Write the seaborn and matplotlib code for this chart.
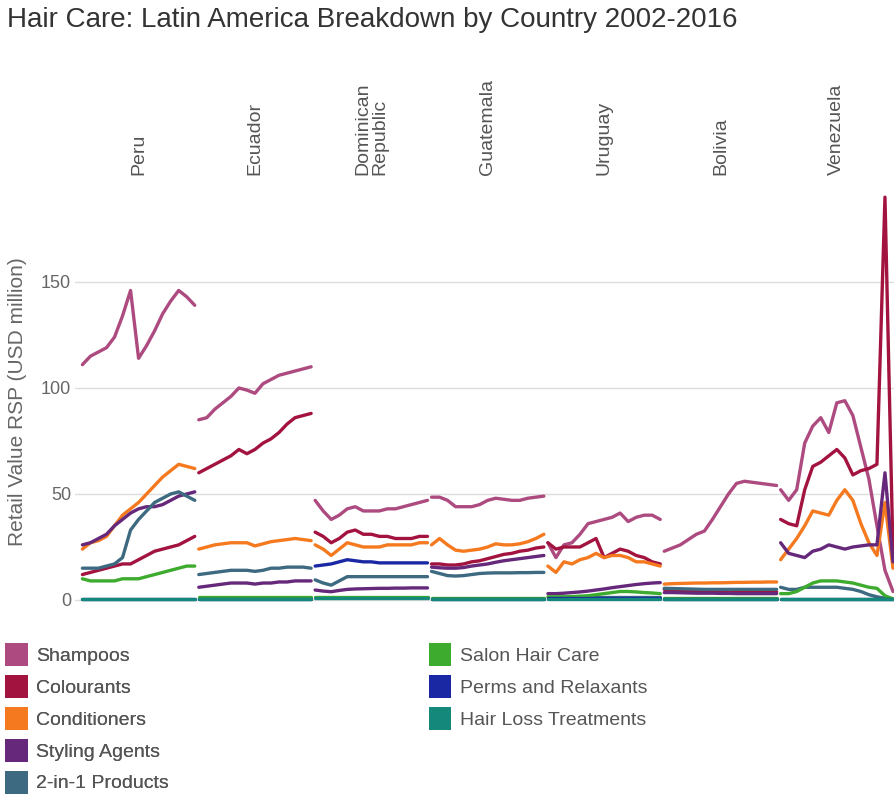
import pandas as pd
import seaborn as sns
import matplotlib.pyplot as plt
from matplotlib.patches import Patch

# jaren en categorieen
years = list(range(2002, 2017))
categories = ["Shampoos", "Colourants", "Conditioners", "Styling Agents",
              "2-in-1 Products", "Salon Hair Care", "Perms and Relaxants",
              "Hair Loss Treatments"]
colors = ["#ad4a80", "#a3133f", "#f57a1f", "#66287a",
          "#3d6a80", "#3dab2e", "#1b28a3", "#14887a"]
countries = ["Peru", "Ecuador", "Dominican\nRepublic", "Guatemala",
             "Uruguay", "Bolivia", "Venezuela"]

# Retail Value RSP (USD million) per land, volgorde = categories
peru = [
    [111, 115, 117, 119, 124, 134, 146, 114, 120, 127, 135, 141, 146, 143, 139],
    [12, 13, 14, 15, 16, 17, 17, 19, 21, 23, 24, 25, 26, 28, 30],
    [24, 27, 28, 30, 35, 40, 43, 46, 50, 54, 58, 61, 64, 63, 62],
    [26, 27, 29, 31, 35, 38, 41, 43, 44, 44, 45, 47, 49, 50, 51],
    [15, 15, 15, 16, 17, 20, 33, 38, 42, 46, 48, 50, 51, 49, 47],
    [10, 9, 9, 9, 9, 10, 10, 10, 11, 12, 13, 14, 15, 16, 16],
    [0.3, 0.3, 0.3, 0.3, 0.3, 0.3, 0.3, 0.3, 0.3, 0.3, 0.3, 0.3, 0.3, 0.3, 0.3],
    [0.4, 0.4, 0.4, 0.4, 0.4, 0.4, 0.4, 0.4, 0.4, 0.4, 0.4, 0.4, 0.4, 0.4, 0.4],
]
ecuador = [
    [85, 86, 90, 93, 96, 100, 99, 97.5, 102, 104, 106, 107, 108, 109, 110],
    [60, 62, 64, 66, 68, 71, 69, 71, 74, 76, 79, 83, 86, 87, 88],
    [24, 25, 26, 26.5, 27, 27, 27, 25.5, 26.5, 27.5, 28, 28.5, 29, 28.5, 28],
    [6, 6.5, 7, 7.5, 8, 8, 8, 7.5, 8, 8, 8.5, 8.5, 9, 9, 9],
    [12, 12.5, 13, 13.5, 14, 14, 14, 13.5, 14, 15, 15, 15.5, 15.5, 15.5, 15],
    [1.5, 1.5, 1.5, 1.5, 1.5, 1.5, 1.5, 1.5, 1.5, 1.5, 1.5, 1.5, 1.5, 1.5, 1.5],
    [0.3, 0.3, 0.3, 0.3, 0.3, 0.3, 0.3, 0.3, 0.3, 0.3, 0.3, 0.3, 0.3, 0.3, 0.3],
    [0.5, 0.5, 0.5, 0.5, 0.5, 0.5, 0.5, 0.5, 0.5, 0.5, 0.5, 0.5, 0.5, 0.5, 0.5],
]
dominican = [
    [47, 42, 38, 40, 43, 44, 42, 42, 42, 43, 43, 44, 45, 46, 47],
    [32, 30, 27, 29, 32, 33, 31, 31, 30, 30, 29, 29, 29, 30, 30],
    [26, 24, 21, 24, 27, 26, 25, 25, 25, 26, 26, 26, 26, 27, 27],
    [4.7, 4.2, 3.9, 4.5, 5, 5.2, 5.3, 5.4, 5.5, 5.5, 5.6, 5.6, 5.7, 5.7, 5.7],
    [9.5, 8, 7, 9, 11, 11, 11, 11, 11, 11, 11, 11, 11, 11, 11],
    [1.5, 1.5, 1.5, 1.5, 1.5, 1.5, 1.5, 1.5, 1.5, 1.5, 1.5, 1.5, 1.5, 1.5, 1.5],
    [16, 16.5, 17, 18, 19, 18.5, 18, 18, 17.5, 17.5, 17.5, 17.5, 17.5, 17.5, 17.5],
    [0.8, 0.8, 0.8, 0.8, 0.8, 0.8, 0.8, 0.8, 0.8, 0.8, 0.8, 0.8, 0.8, 0.8, 0.8],
]
guatemala = [
    [48.5, 48.5, 47, 44, 44, 44, 45, 47, 48, 47.5, 47, 47, 48, 48.5, 49],
    [17, 17, 16.5, 16.5, 17, 18, 18.5, 19.5, 20.5, 21.5, 22, 23, 23.5, 24.5, 25],
    [26, 29, 26, 23.5, 23, 23.5, 24, 25, 26.5, 26, 26, 26.5, 27.5, 29, 31],
    [15.5, 15.2, 15, 15, 15.3, 16, 16.5, 17, 17.8, 18.5, 19, 19.5, 20, 20.5, 21],
    [13.5, 12.5, 11.5, 11.3, 11.5, 12, 12.5, 12.7, 12.8, 12.8, 12.8, 12.9, 12.9, 13, 13],
    [1, 1, 1, 1, 1, 1, 1, 1, 1, 1, 1, 1, 1, 1, 1],
    [0.3, 0.3, 0.3, 0.3, 0.3, 0.3, 0.3, 0.3, 0.3, 0.3, 0.3, 0.3, 0.3, 0.3, 0.3],
    [0.5, 0.5, 0.5, 0.5, 0.5, 0.5, 0.5, 0.5, 0.5, 0.5, 0.5, 0.5, 0.5, 0.5, 0.5],
]
uruguay = [
    [27, 20, 26, 27, 31, 36, 37, 38, 39, 41, 37, 39, 40, 40, 38],
    [27, 24, 25, 25, 25, 27, 29, 20, 22, 24, 23, 21, 20, 18, 17],
    [16, 13, 18, 17, 19, 20, 22, 20, 21, 21, 20, 18, 18, 17, 16],
    [3, 3, 3.2, 3.5, 3.8, 4.2, 4.7, 5.2, 5.8, 6.3, 6.8, 7.3, 7.7, 8, 8.2],
    [1.2, 1.2, 1.2, 1.2, 1.2, 1.2, 1.2, 1.2, 1.2, 1.2, 1.2, 1.2, 1.2, 1.2, 1.2],
    [1.5, 1.5, 1.5, 1.6, 1.8, 2, 2.5, 3, 3.5, 4, 4, 3.8, 3.5, 3.3, 3],
    [0.8, 0.8, 0.8, 0.8, 0.8, 0.8, 0.8, 0.8, 0.8, 0.8, 0.8, 0.8, 0.8, 0.8, 0.8],
    [0.3, 0.3, 0.3, 0.3, 0.3, 0.3, 0.3, 0.3, 0.3, 0.3, 0.3, 0.3, 0.3, 0.3, 0.3],
]
bolivia = [
    [23, 24.5, 26, 28.5, 31, 32.5, 38, 44, 50, 55, 56, 55.5, 55, 54.5, 54],
    [5, 4.8, 4.5, 4.3, 4, 4, 4, 3.8, 3.8, 3.8, 3.8, 3.8, 3.8, 3.8, 3.8],
    [7.5, 7.7, 7.8, 7.9, 8, 8, 8.1, 8.1, 8.2, 8.3, 8.3, 8.4, 8.4, 8.5, 8.5],
    [3.5, 3.5, 3.4, 3.3, 3.2, 3.2, 3.2, 3.1, 3.1, 3, 3, 3, 3, 3, 3],
    [5.5, 5.4, 5.3, 5.2, 5.1, 5, 5, 5, 5, 5, 5, 5, 5, 5, 5],
    [0.8, 0.8, 0.8, 0.8, 0.8, 0.8, 0.8, 0.8, 0.8, 0.8, 0.8, 0.8, 0.8, 0.8, 0.8],
    [0.3, 0.3, 0.3, 0.3, 0.3, 0.3, 0.3, 0.3, 0.3, 0.3, 0.3, 0.3, 0.3, 0.3, 0.3],
    [0.5, 0.5, 0.5, 0.5, 0.5, 0.5, 0.5, 0.5, 0.5, 0.5, 0.5, 0.5, 0.5, 0.5, 0.5],
]
venezuela = [
    [52, 47, 52, 74, 82, 86, 79, 93, 94, 87, 72, 57, 35, 14, 4],
    [38, 36, 35, 52, 63, 65, 68, 71, 67, 59, 61, 62, 64, 190, 22],
    [19, 24, 29, 35, 42, 41, 40, 47, 52, 47, 36, 27, 21, 46, 15],
    [27, 22, 21, 20, 23, 24, 26, 25, 24, 25, 25.5, 26, 26, 60, 18],
    [6, 5, 5, 6, 6, 6, 6, 6, 5.5, 5, 4, 2.5, 1.5, 0.8, 0.5],
    [3, 3, 4, 6, 8, 9, 9, 9, 8.5, 8, 7, 6, 5.5, 2, 0.5],
    [0.5, 0.5, 0.5, 0.5, 0.5, 0.5, 0.5, 0.5, 0.5, 0.5, 0.5, 0.5, 0.5, 0.5, 0.5],
    [0.3, 0.3, 0.3, 0.3, 0.3, 0.3, 0.3, 0.3, 0.3, 0.3, 0.3, 0.3, 0.3, 0.3, 0.3],
]
alle_landen = [peru, ecuador, dominican, guatemala, uruguay, bolivia, venezuela]

# lange tabel voor seaborn, elk land krijgt een eigen stuk van de x-as
stap = 14.5
rijen = []
for ci, land in enumerate(countries):
    for ki, cat in enumerate(categories):
        for ji, jaar in enumerate(years):
            rijen.append({"land": land, "categorie": cat, "jaar": jaar,
                          "x": ci * stap + ji,
                          "waarde": alle_landen[ci][ki][ji]})
df = pd.DataFrame(rijen)

sns.set_theme(style="white")
plt.rcParams["font.family"] = ["Liberation Sans", "DejaVu Sans"]

fig = plt.figure(figsize=(8.95, 7.94), dpi=100)
ax = fig.add_axes([0.084, 0.231, 0.916, 0.526])

ax.set_ylim(-5, 192)
ax.set_xlim(-0.9, 6 * stap + 14 + 0.25)
ax.set_yticks([0, 50, 100, 150])
ax.grid(axis="y", color="#dddddd", linewidth=1)
ax.set_axisbelow(True)

sns.lineplot(data=df, x="x", y="waarde", hue="categorie", units="land",
             estimator=None, sort=False, palette=colors,
             hue_order=categories, linewidth=2.4, legend=False, ax=ax)

sns.despine(ax=ax, left=True, bottom=True)
ax.set_xticks([])
ax.set_xlabel("")
ax.set_ylabel("Retail Value RSP (USD million)", fontsize=15, color="#666666", labelpad=10)
ax.tick_params(axis="y", labelsize=13, labelcolor="#666666", length=0, pad=3)

# landnamen boven de lijnen
for ci, land in enumerate(countries):
    ax.text(ci * stap + 7, 1.043, land, transform=ax.get_xaxis_transform(),
            rotation=90, ha="center", va="bottom", multialignment="left",
            fontsize=14, color="#555555", linespacing=1.0)

fig.text(0.008, 0.991, "Hair Care: Latin America Breakdown by Country 2002-2016",
         fontsize=20, color="#333333", va="top", ha="left")

# legenda in twee kolommen (5 + 3)
patches = [Patch(facecolor=c, edgecolor="none", label=l) for c, l in zip(colors, categories)]
opties = dict(loc="upper left", frameon=False, fontsize=14, handlelength=1.15,
              handleheight=1.45, handletextpad=0.45, labelspacing=0.45,
              borderpad=0, borderaxespad=0, labelcolor="#555555")
leg1 = fig.legend(handles=patches[:5], bbox_to_anchor=(0.006, 0.190), **opties)
fig.add_artist(leg1)
fig.legend(handles=patches[5:], bbox_to_anchor=(0.479, 0.190), **opties)

plt.savefig("out.png", dpi=100)
